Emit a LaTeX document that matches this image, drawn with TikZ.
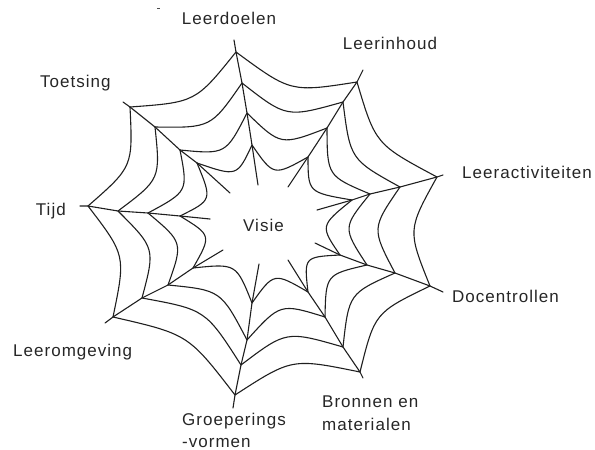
\documentclass[tikz,border=0pt]{standalone}
\usepackage{fontspec}
\setmainfont{Liberation Sans}[LetterSpace=6]
\usetikzlibrary{calc}
\newcommand\webspoke[7]{%
  \coordinate (s#1-0) at (#2);
  \coordinate (s#1-1) at (#3);
  \coordinate (s#1-2) at (#4);
  \coordinate (s#1-3) at (#5);
  \coordinate (s#1-4) at (#6);
  \coordinate (s#1-5) at (#7);
}
\begin{document}
\begin{tikzpicture}[x=1pt,y=-1pt,
  web/.style={line width=1.1pt, black!88, line join=round, line cap=round},
  lbl/.style={font=\fontsize{17}{23}\selectfont, inner sep=0pt, text=black!85}]
\useasboundingbox (0,0) rectangle (595,450);
\coordinate (ctr) at (262,222);
\webspoke{1}{234,40}{236,52}{242,83}{247,113}{252,145}{258,185}
\webspoke{2}{363,70}{357,82}{343,102}{327,128}{308,157}{288,187}
\webspoke{3}{443,175}{437,177}{400,187}{370,194}{352,200}{317,210}
\webspoke{4}{443,292}{430,286}{395,273}{367,265}{340,255}{315,243}
\webspoke{5}{363,378}{360,372}{343,347}{325,317}{308,292}{288,260}
\webspoke{6}{233,408}{235,395}{241,365}{247,340}{252,303}{259,264}
\webspoke{7}{105,323}{113,317}{142,298}{168,285}{193,268}{223,250}
\webspoke{8}{80,206}{88,206}{118,211}{148,213}{180,216}{210,219}
\webspoke{9}{123,102}{130,107}{155,127}{180,150}{197,163}{230,193}
% spokes
\foreach \i in {1,...,9}{
  \draw[web] (s\i-0) -- (s\i-1) -- (s\i-2) -- (s\i-3) -- (s\i-4) -- (s\i-5);
}
% threads
\foreach \i [evaluate=\i as \j using {int(mod(\i,9)+1)}] in {1,...,9}{
  \foreach \k in {1,...,4}{
    \coordinate (m) at ($(s\i-\k)!0.5!(s\j-\k)$);
    \coordinate (q) at ($(m)!26pt!(ctr)$);
    \draw[web] (s\i-\k) .. controls (q) .. (s\j-\k);
  }
}
% stray mark
\coordinate (dashA) at (157,8);
\coordinate (dashB) at (160,8);
\draw[line width=0.9pt, black!70] (dashA) -- (dashB);
% labels
\node[lbl, anchor=base] (leerdoelen) at (229,24) {Leerdoelen};
\node[lbl, anchor=base] (leerinhoud) at (390,49) {Leerinhoud};
\node[lbl, anchor=base west] (toetsing) at (40,87) {Toetsing};
\node[lbl, anchor=base east] (tijd) at (66,215) {Tijd};
\node[lbl, anchor=base west] (leeract) at (462,178) {Leeractiviteiten};
\node[lbl, anchor=base west] (docent) at (452,302) {Docentrollen};
\node[lbl, anchor=base west] (bronnen1) at (322,407) {Bronnen en};
\node[lbl, anchor=base west] (bronnen2) at (322,430) {materialen};
\node[lbl, anchor=base west] (groep1) at (182,425) {Groeperings};
\node[lbl, anchor=base west] (groep2) at (182,447) {-vormen};
\node[lbl, anchor=base west] (leeromg) at (13,356) {Leeromgeving};
\node[lbl, anchor=base west] (visie) at (243,231) {Visie};
\end{tikzpicture}
\end{document}
